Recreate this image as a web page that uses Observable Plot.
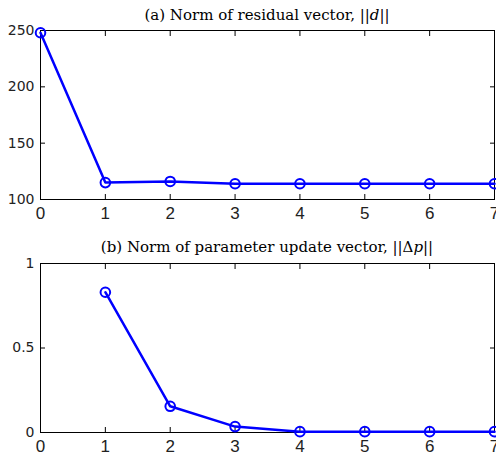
<!DOCTYPE html>
<html><head><meta charset="utf-8">
<script src="https://cdn.jsdelivr.net/npm/d3@7"></script>
<script src="https://cdn.jsdelivr.net/npm/@observablehq/plot@0.6"></script>
<style>
body{margin:0;background:#fff;}
#wrap{position:relative;width:496px;height:457px;background:#fff;overflow:hidden;}
.ttl{position:absolute;left:40px;width:454px;text-align:center;font-family:"DejaVu Serif","Liberation Serif",serif;font-size:15px;line-height:18px;color:#000;white-space:nowrap;}
.ttl i{font-style:italic;}
svg{position:absolute;left:0;}
g[aria-label="y-axis tick label"] text{font-family:"DejaVu Sans",sans-serif;font-size:14px;fill:#222;}
g[aria-label="x-axis tick label"] text{font-family:"Liberation Sans",Arial,sans-serif;font-size:17px;fill:#222;}
</style></head>
<body><div id="wrap">
<div class="ttl" style="top:6px">(a) Norm of residual vector, ||<i>d</i>||</div>
<div class="ttl" style="top:238px">(b) Norm of parameter update vector, ||Δ<i>p</i>||</div>
</div>
<script>
const iterA = [0, 1, 2, 3, 4, 5, 6, 7];
const residual = [248, 115, 116, 114, 114, 114, 114, 114];
const iterB = [1, 2, 3, 4, 5, 6, 7];
const update = [0.83, 0.155, 0.035, 0.005, 0.005, 0.005, 0.005];
const xTicks = [0, 1, 2, 3, 4, 5, 6, 7];
const yTicksA = [100, 150, 200, 250];
const yTicksB = [0, 0.5, 1];

function panel(xs, ys, yDomain, yTicks, yFmt, height, mt, mb) {
  const data = xs.map((x, i) => ({x, y: ys[i]}));
  return Plot.plot({
    width: 496, height,
    marginLeft: 40, marginRight: 2, marginTop: mt, marginBottom: mb,
    style: {fontSize: "14px", background: "transparent", overflow: "visible"},
    x: {domain: [0, 7]},
    y: {domain: yDomain},
    marks: [
      Plot.axisX(xTicks, {anchor: "bottom", tickSize: -5, tickPadding: 12, label: null}),
      Plot.axisX(xTicks, {anchor: "top", tickSize: -5, tickFormat: () => "", label: null}),
      Plot.axisY(yTicks, {anchor: "left", tickSize: -5, tickPadding: 11, tickFormat: yFmt, label: null}),
      Plot.axisY(yTicks, {anchor: "right", tickSize: -5, tickFormat: () => "", label: null}),
      Plot.frame({stroke: "black", strokeWidth: 1}),
      Plot.line(data, {x: "x", y: "y", stroke: "#0000ff", strokeWidth: 2.5}),
      Plot.dot(data, {x: "x", y: "y", r: 4.8, stroke: "#0000ff", strokeWidth: 2, fill: "none"})
    ]
  });
}
const wrap = document.getElementById("wrap");
const a = panel(iterA, residual, [100, 250], yTicksA, d3.format("d"), 228, 30, 29);
a.style.top = "0px";
wrap.appendChild(a);
const b = panel(iterB, update, [0, 1], yTicksB, d => String(d), 229, 35, 25);
b.style.top = "228px";
wrap.appendChild(b);
</script>
</body></html>
